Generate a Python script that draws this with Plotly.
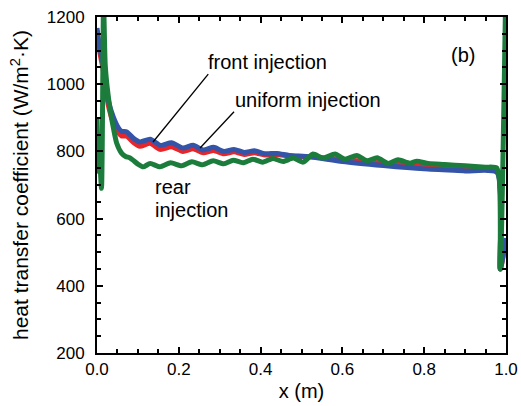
import plotly.graph_objects as go

# ---- data ----
x_front = [0.0, 0.005, 0.01, 0.015, 0.02, 0.025, 0.03, 0.04, 0.05, 0.06, 0.073, 0.09, 0.105,
           0.13, 0.155, 0.182, 0.21, 0.235, 0.26, 0.285, 0.31, 0.335, 0.36, 0.385, 0.41,
           0.44, 0.47, 0.52, 0.6, 0.7, 0.8, 0.9, 0.978, 0.986, 1.0]
h_front = [1160, 1110, 1075, 1045, 995, 955, 925, 885, 860, 846, 845, 826, 815,
           824, 806, 814, 800, 808, 796, 803, 793, 799, 791, 796, 789,
           791, 786, 784, 776, 765, 756, 749, 742, 450, 540]

x_uniform = [0.0, 0.005, 0.01, 0.015, 0.02, 0.025, 0.03, 0.04, 0.05, 0.06, 0.073, 0.09, 0.105,
             0.13, 0.155, 0.182, 0.21, 0.235, 0.26, 0.285, 0.31, 0.335, 0.36, 0.385, 0.41,
             0.44, 0.47, 0.52, 0.6, 0.7, 0.8, 0.9, 0.978, 0.986, 1.0]
h_uniform = [1167, 1120, 1090, 1060, 1010, 970, 940, 902, 875, 860, 858, 838, 828,
             836, 818, 826, 810, 818, 804, 812, 800, 806, 797, 802, 793,
             794, 788, 784, 770, 758, 748, 742, 737, 450, 542]

x_rear = [0.0, 0.004, 0.007, 0.011, 0.016, 0.018, 0.02, 0.025, 0.032, 0.04, 0.048, 0.06, 0.07,
          0.08, 0.09, 0.1, 0.113, 0.13, 0.154, 0.18, 0.207, 0.232, 0.258, 0.284, 0.31,
          0.333, 0.357, 0.381, 0.405, 0.43, 0.455, 0.48, 0.504, 0.528, 0.553, 0.582, 0.606,
          0.635, 0.66, 0.685, 0.712, 0.736, 0.765, 0.782, 0.81, 0.85, 0.9, 0.95, 0.978,
          0.986, 0.999]
h_rear = [900, 740, 760, 690, 1250, 1150, 1060, 990, 925, 870, 825, 795, 785,
          781, 772, 762, 754, 764, 754, 766, 757, 769, 760, 772, 763,
          774, 766, 777, 768, 779, 770, 780, 768, 792, 780, 792, 777,
          788, 772, 781, 764, 775, 765, 771, 764, 761, 757, 753, 750,
          450, 1250]

# annotation anchors (data coords)
front_label = (0.272, 1030)
front_tip = (0.137, 828)
uniform_label = (0.335, 918)
uniform_tip = (0.252, 810)

FONT = "Liberation Sans, Arial, sans-serif"
RED = "rgb(232,38,42)"
BLUE = "rgb(52,84,168)"
GREEN = "rgb(28,124,60)"

fig = go.Figure()
fig.add_trace(go.Scatter(x=x_front, y=h_front, mode="lines", name="front injection",
                         line=dict(color=RED, width=5, shape="spline", smoothing=0.6)))
fig.add_trace(go.Scatter(x=x_uniform, y=h_uniform, mode="lines", name="uniform injection",
                         line=dict(color=BLUE, width=5, shape="spline", smoothing=0.6)))
fig.add_trace(go.Scatter(x=x_rear, y=h_rear, mode="lines", name="rear injection",
                         line=dict(color=GREEN, width=5, shape="spline", smoothing=0.6)))

# pointer lines
for (lx, ly), (tx, ty) in [(front_label, front_tip), (uniform_label, uniform_tip)]:
    fig.add_shape(type="line", x0=lx, y0=ly, x1=tx, y1=ty, xref="x", yref="y",
                  line=dict(color="black", width=1.3))

ann_font = dict(size=20, family=FONT, color="black")
fig.add_annotation(x=0.416, y=1066, text="front injection", showarrow=False, font=ann_font)
fig.add_annotation(x=0.516, y=953, text="uniform injection", showarrow=False, font=ann_font)
fig.add_annotation(x=0.137, y=694, text="rear", showarrow=False, xanchor="left", font=ann_font)
fig.add_annotation(x=0.137, y=626, text="injection", showarrow=False, xanchor="left", font=ann_font)
fig.add_annotation(x=0.895, y=1087, text="(b)", showarrow=False, font=ann_font)

axis_common = dict(showline=True, linecolor="black", linewidth=2, mirror="allticks",
                   ticks="inside", ticklen=6, tickwidth=2, tickcolor="black",
                   showgrid=False, zeroline=False, automargin=False,
                   tickfont=dict(size=17, family=FONT, color="black"))

fig.update_xaxes(range=[0, 1.0], dtick=0.2, tickformat=".1f",
                 minor=dict(dtick=0.05, ticks="inside", ticklen=4, tickwidth=1.5, tickcolor="black"),
                 title=dict(text="x (m)", font=dict(size=20, family=FONT, color="black"), standoff=6),
                 **axis_common)
fig.update_yaxes(range=[200, 1200], dtick=200, ticklabelstandoff=7,
                 minor=dict(dtick=50, ticks="inside", ticklen=4, tickwidth=1.5, tickcolor="black"),
                 title=dict(text="heat transfer coefficient (W/m<sup>2</sup>·K)",
                            font=dict(size=21, family=FONT, color="black"), standoff=12),
                 **axis_common)

fig.update_layout(width=521, height=406, showlegend=False,
                  margin=dict(l=97, r=15, t=17, b=53),
                  plot_bgcolor="white", paper_bgcolor="white",
                  font=dict(family=FONT, color="black"))

fig.write_html("out.html")
